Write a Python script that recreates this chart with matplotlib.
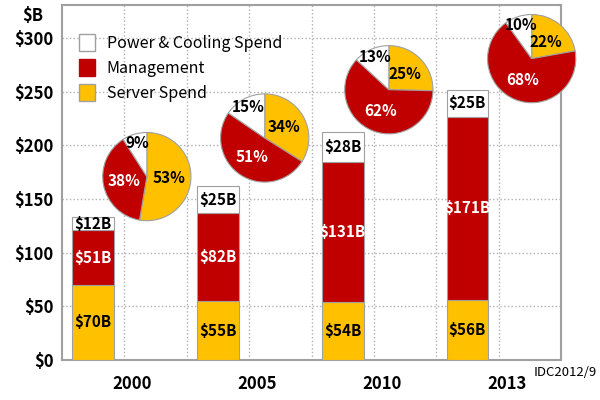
import numpy as np
import matplotlib
matplotlib.use("Agg")
import matplotlib.pyplot as plt
from matplotlib.patches import Patch

plt.rcParams['font.family'] = ['Noto Sans CJK KR', 'DejaVu Sans']

# data ($B)
years = ["2000", "2005", "2010", "2013"]
server = [70, 55, 54, 56]
management = [51, 82, 131, 171]
power = [12, 25, 28, 25]
yticks = [0, 50, 100, 150, 200, 250, 300]

YELLOW = "#FFC000"
RED = "#C00000"
EDGE = "#A0A0A0"

fig = plt.figure(figsize=(6, 4), dpi=100)
ax = fig.add_axes([62 / 600, 40 / 400, 499 / 600, 355 / 400])

x = np.arange(len(years)) * 2 + 0.5
w = 0.67
server = np.array(server)
management = np.array(management)
power = np.array(power)

ax.bar(x, server, w, color=YELLOW, edgecolor=EDGE, linewidth=0.8, zorder=3)
ax.bar(x, management, w, bottom=server, color=RED, edgecolor=EDGE, linewidth=0.8, zorder=3)
ax.bar(x, power, w, bottom=server + management, color="white", edgecolor=EDGE, linewidth=0.8, zorder=3)

for i in range(len(years)):
    ax.text(x[i], server[i] / 2, f"${server[i]}B", ha="center", va="center",
            fontsize=11, fontweight="bold", color="black", zorder=4)
    ax.text(x[i], server[i] + management[i] / 2, f"${management[i]}B", ha="center", va="center",
            fontsize=11, fontweight="bold", color="white", zorder=4)
    ax.text(x[i], server[i] + management[i] + power[i] / 2, f"${power[i]}B", ha="center", va="center",
            fontsize=11, fontweight="bold", color="black", zorder=4)

ax.set_xlim(0, 8)
ax.set_ylim(0, 331)
ax.set_yticks(yticks)
ax.set_yticklabels([f"${v}" for v in yticks], fontsize=12, fontweight="bold")
ax.set_xticks(x + 0.63)
ax.set_xticklabels(years, fontsize=12, fontweight="bold")
ax.tick_params(axis="y", length=0, pad=6)
ax.tick_params(axis="x", length=0, pad=11)
ax.set_xticks(np.arange(1, 8), minor=True)
ax.tick_params(which="minor", length=0)
ax.grid(True, which="minor", axis="x", linestyle=":", color="#B0B0B0", linewidth=1, zorder=0)
ax.grid(True, which="major", axis="y", linestyle=":", color="#B0B0B0", linewidth=1, zorder=0)
for s in ax.spines.values():
    s.set_color("#A0A0A0")
    s.set_linewidth(1.5)

ax.text(-0.3, 321, "$B", ha="right", va="center", fontsize=12, fontweight="bold")
fig.text(0.995, 0.07, "IDC2012/9", ha="right", va="center", fontsize=9.5)

handles = [Patch(facecolor="white", edgecolor=EDGE, label="Power & Cooling Spend"),
           Patch(facecolor=RED, edgecolor=RED, label="Management"),
           Patch(facecolor=YELLOW, edgecolor=EDGE, label="Server Spend")]
ax.legend(handles=handles, loc="upper left", bbox_to_anchor=(0.006, 0.96), frameon=False,
          prop={"size": 11.5, "weight": "medium"}, handlelength=1.0, handleheight=1.3,
          handletextpad=0.7, labelspacing=0.45)

# pies, centres in (bar units, $B)
pie_x = [1.36, 3.25, 5.24, 7.53]
pie_y = [171, 207, 252, 281]
r_px = 45
for i in range(len(years)):
    px, py = ax.transData.transform((pie_x[i], pie_y[i]))
    pax = fig.add_axes([(px - r_px) / 600, (py - r_px) / 400, 2 * r_px / 600, 2 * r_px / 400])
    vals = [server[i], management[i], power[i]]
    wedges, _ = pax.pie(vals, colors=[YELLOW, RED, "white"], startangle=90, counterclock=False,
                        wedgeprops=dict(edgecolor=EDGE, linewidth=0.8))
    tot = sum(vals)
    dist = [0.5, 0.52, 0.8]
    tcol = ["black", "white", "black"]
    for k, wd in enumerate(wedges):
        ang = np.deg2rad((wd.theta1 + wd.theta2) / 2)
        pax.text(dist[k] * np.cos(ang), dist[k] * np.sin(ang), f"{round(100 * vals[k] / tot)}%",
                 ha="center", va="center", fontsize=11, fontweight="bold", color=tcol[k])
    pax.set_xlim(-1.02, 1.02)
    pax.set_ylim(-1.02, 1.02)
    pax.set_aspect("auto")
    pax.axis("off")

fig.savefig("out.png", dpi=100)
